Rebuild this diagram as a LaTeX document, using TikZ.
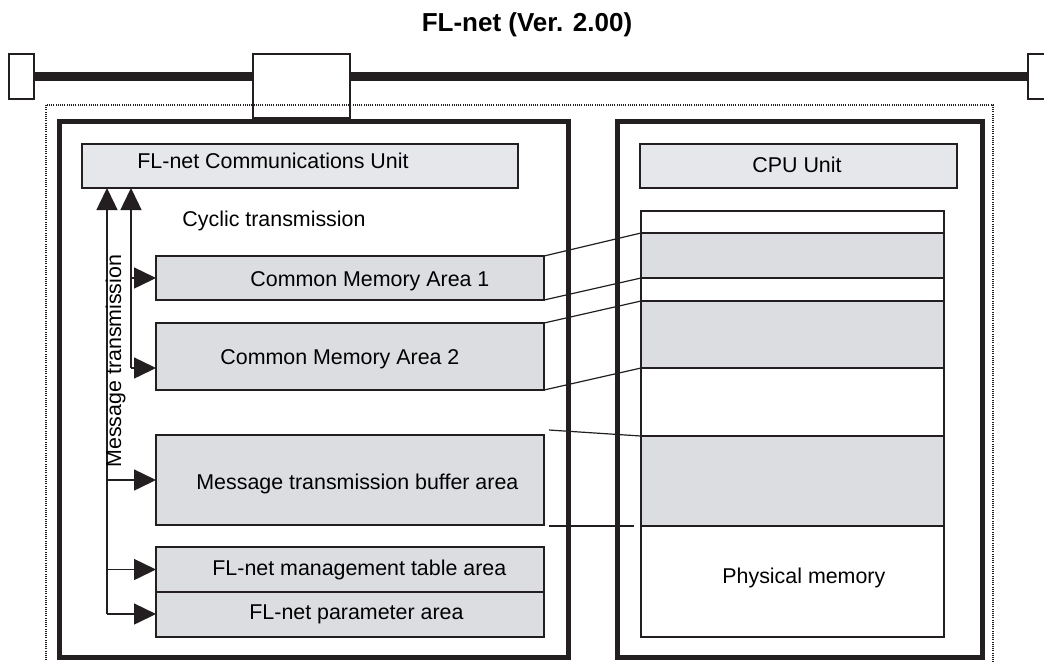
\documentclass[tikz,border=0pt]{standalone}
\usepackage{fontspec}
\setmainfont{Liberation Sans}
\usetikzlibrary{arrows.meta}
\definecolor{linie}{RGB}{35,31,32}
\definecolor{hellgrau}{RGB}{230,231,234}
\definecolor{mittelgrau}{RGB}{219,221,225}
\tikzset{
	einheit/.style = {draw=linie, line width=0.9pt, fill=hellgrau, inner sep=0pt, outer sep=0pt, anchor=north west},
	bereich/.style = {einheit, fill=mittelgrau},
	leer/.style = {einheit, fill=white},
	beschriftung/.style = {inner sep=0pt, anchor=base west, text=black},
	pfeil/.style = {-{Triangle[length=11pt,width=10.5pt]}, line width=0.75pt, draw=linie},
	rahmen/.style = {draw=linie, line width=2.5pt},
	bus/.style = {draw=linie, line width=4.2pt}
}
\begin{document}
\begin{tikzpicture}[x=0.5pt, y=-0.5pt, line join=miter, font=\fontsize{10.7}{13}\selectfont]
	\useasboundingbox (0,0) rectangle (1044,661);
	% Titel
	\node [inner sep=0pt, anchor=base, font=\fontsize{13}{15}\selectfont\bfseries] (titel) at (527,31) {FL-net (Ver. 2.00)};
	% Netz mit Abschluessen
	\node [leer, minimum width=12.5pt, minimum height=22.5pt] (links) at (9,54) {};
	\node [leer, minimum width=12.5pt, minimum height=22.5pt] (rechts) at (1028,54) {};
	\node [einheit, fill=none, minimum width=48.5pt, minimum height=32pt] (abzweig) at (253,54) {};
	\draw [bus] (links.east) -- (links.east -| abzweig.west);
	\draw [bus] (links.east -| abzweig.east) -- (rechts.west);
	% Station (gepunktet)
	\draw [draw=linie, line width=0.6pt, dash pattern=on 0.5pt off 0.6pt] (46,105) rectangle (993,700);
	% Rahmen der beiden Einheiten
	\draw [rahmen] (59,121) rectangle (568,657);
	\draw [rahmen] (617,121) rectangle (982,657);
	% Kommunikationseinheit
	\node [einheit, minimum width=218pt, minimum height=22pt] (komm) at (82,144) {};
	\node [beschriftung] (kommtext) at (137,168) {FL-net Communications Unit};
	\node [bereich, minimum width=194pt, minimum height=22pt] (cma1) at (156,256) {};
	\node [beschriftung] (cma1text) at (250,286) {Common Memory Area 1};
	\node [bereich, minimum width=194pt, minimum height=33.5pt] (cma2) at (156,323) {};
	\node [beschriftung] (cma2text) at (220,364) {Common Memory Area 2};
	\node [bereich, minimum width=194pt, minimum height=45pt] (puffer) at (156,435) {};
	\node [beschriftung] (puffertext) at (196,489) {Message transmission buffer area};
	\node [bereich, minimum width=194pt, minimum height=22.5pt] (tabelle) at (156,547) {};
	\node [beschriftung] (tabelletext) at (212,575) {FL-net management table area};
	\node [bereich, minimum width=194pt, minimum height=22.5pt] (parameter) at (156,592) {};
	\node [beschriftung] (parametertext) at (249,619) {FL-net parameter area};
	% Zyklische Uebertragung
	\coordinate (zyklisch) at (131,368);
	\draw [pfeil] (zyklisch) -- (zyklisch |- komm.south);
	\draw [pfeil] (zyklisch) -- (zyklisch -| cma2.west);
	\draw [pfeil] (zyklisch |- cma1.west) -- (cma1.west);
	\node [beschriftung] (zyklischtext) at (182,226) {Cyclic transmission};
	% Nachrichtenuebertragung
	\coordinate (nachricht) at (107,614);
	\draw [pfeil] (nachricht) -- (nachricht |- komm.south);
	\draw [pfeil] (nachricht) -- (nachricht -| parameter.west);
	\draw [pfeil] (nachricht |- tabelle.west) -- (tabelle.west);
	\draw [pfeil] (nachricht |- puffer.west) -- (puffer.west);
	\node [beschriftung, rotate=90] (nachrichttext) at (121,468) {Message transmission};
	% CPU-Einheit
	\node [einheit, minimum width=158.5pt, minimum height=22pt] (cpu) at (640,144) {};
	\node [beschriftung] (cputext) at (752,172) {CPU Unit};
	\node [leer, minimum width=151.5pt, minimum height=213pt] (speicher) at (641,211) {};
	\node [bereich, minimum width=151.5pt, minimum height=22.5pt] (band1) at (641,233) {};
	\node [bereich, minimum width=151.5pt, minimum height=33.5pt] (band2) at (641,301) {};
	\node [bereich, minimum width=151.5pt, minimum height=45pt] (band3) at (641,436) {};
	\node [beschriftung] (speichertext) at (722,583) {Physical memory};
	% Zuordnung
	\draw [draw=linie, line width=0.6pt] (cma1.north east) -- (band1.north west);
	\draw [draw=linie, line width=0.6pt] (cma1.south east) -- (band1.south west);
	\draw [draw=linie, line width=0.6pt] (cma2.north east) -- (band2.north west);
	\draw [draw=linie, line width=0.6pt] (cma2.south east) -- (band2.south west);
	\coordinate (puffero) at (549,430);
	\coordinate (pufferu) at (549,526);
	\coordinate (bandu) at (634,526);
	\draw [draw=linie, line width=0.6pt] (puffero) -- (band3.north west);
	\draw [draw=linie, line width=0.6pt] (pufferu) -- (bandu);
\end{tikzpicture}
\end{document}
